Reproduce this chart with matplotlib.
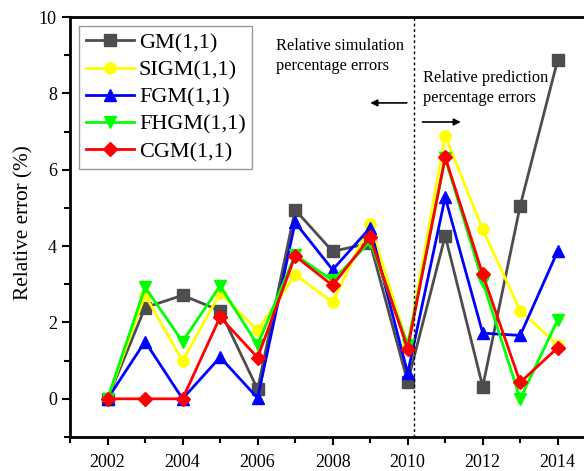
import numpy as np
import matplotlib.pyplot as plt
from matplotlib.ticker import MultipleLocator

plt.rcParams['font.family'] = ['Liberation Serif', 'DejaVu Serif']

# data
years = [2002, 2003, 2004, 2005, 2006, 2007, 2008, 2009, 2010, 2011, 2012, 2013, 2014]
gm = [0, 2.39, 2.71, 2.31, 0.25, 4.95, 3.86, 4.08, 0.44, 4.27, 0.32, 5.06, 8.88]
sigm = [0, 2.72, 0.99, 2.77, 1.79, 3.25, 2.53, 4.58, 1.40, 6.89, 4.44, 2.31, 1.41]
fgm = [0, 1.50, 0, 1.09, 0.02, 4.62, 3.38, 4.48, 0.67, 5.28, 1.72, 1.66, 3.87]
fhgm = [0, 2.92, 1.50, 2.96, 1.41, 3.77, 3.10, 4.12, 1.41, 6.30, 3.07, 0, 2.07]
cgm = [0, 0, 0, 2.14, 1.08, 3.74, 2.97, 4.23, 1.31, 6.33, 3.26, 0.43, 1.34]

series = [
    ('GM(1,1)', gm, '#4d4d4d', 's'),
    ('SIGM(1,1)', sigm, '#ffff00', 'o'),
    ('FGM(1,1)', fgm, '#0000ff', '^'),
    ('FHGM(1,1)', fhgm, '#00ff00', 'v'),
    ('CGM(1,1)', cgm, '#ff0000', 'D'),
]

fig = plt.figure(figsize=(5.84, 4.71), dpi=100)
ax = fig.add_axes([0.1199, 0.0722, 0.8801, 0.8917])

for name, vals, col, mk in series:
    ms = 7 if mk == 'D' else 8
    ax.plot(years, vals, color=col, marker=mk, markersize=ms, linewidth=2,
            label=name)

ax.set_xlim(2001, 2014.7)
ax.set_ylim(-1, 10)
ax.xaxis.set_major_locator(MultipleLocator(2))
ax.xaxis.set_minor_locator(MultipleLocator(1))
ax.yaxis.set_major_locator(MultipleLocator(2))
ax.yaxis.set_minor_locator(MultipleLocator(1))
ax.tick_params(which='both', direction='out', width=1.5, labelsize=13)
ax.tick_params(which='major', length=6)
ax.tick_params(which='minor', length=4)
ax.tick_params(axis='x', pad=6)

for s in ['left', 'bottom', 'top']:
    ax.spines[s].set_linewidth(2)
ax.spines['right'].set_visible(False)

ax.set_ylabel('Relative error (%)', fontsize=15.3)
ax.yaxis.set_label_coords(-0.072, 0.51)

ax.axvline(2010.18, color='black', linestyle=(0, (2, 2)), linewidth=1)

ax.text(2006.49, 9.45, 'Relative simulation\npercentage errors', fontsize=11.8,
        ha='left', va='top', linespacing=1.3)
ax.text(2010.42, 8.6, 'Relative prediction\npercentage errors', fontsize=11.8,
        ha='left', va='top', linespacing=1.3)
ax.annotate('', xy=(2008.93, 7.75), xytext=(2010.05, 7.75),
            arrowprops=dict(arrowstyle='-|>', color='black', lw=1.2,
                            mutation_scale=10))
ax.annotate('', xy=(2011.49, 7.25), xytext=(2010.32, 7.25),
            arrowprops=dict(arrowstyle='-|>', color='black', lw=1.2,
                            mutation_scale=10))

leg = ax.legend(loc='upper left', fontsize=16, fancybox=False, framealpha=1,
                edgecolor='#999999', borderpad=0.3, labelspacing=0.3,
                handlelength=2.2, handletextpad=0.2, borderaxespad=0.4)
leg.get_frame().set_linewidth(1)

fig.savefig('out.png', dpi=100)
